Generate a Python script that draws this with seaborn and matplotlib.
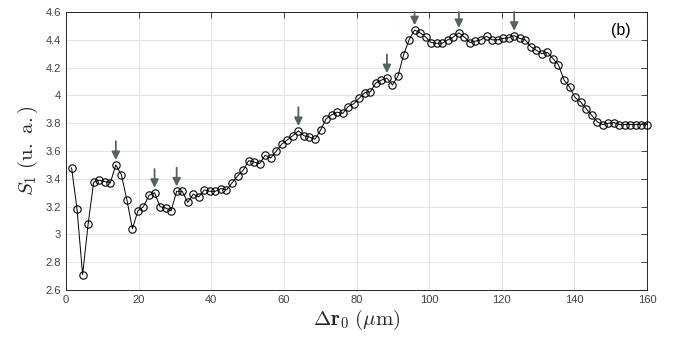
import numpy as np
import pandas as pd
import matplotlib
matplotlib.use("Agg")
import matplotlib.pyplot as plt
import seaborn as sns

# ---- data ----
n_points = 105
dr0 = [160.0 * k / n_points for k in range(1, n_points + 1)]
s1 = [
    3.48, 3.18, 2.71, 3.075, 3.376, 3.39, 3.38, 3.37, 3.50, 3.43,
    3.25, 3.04, 3.17, 3.20, 3.28, 3.30, 3.20, 3.19, 3.17, 3.31,
    3.31, 3.23, 3.29, 3.27, 3.32, 3.31, 3.31, 3.33, 3.32, 3.37,
    3.42, 3.46, 3.53, 3.52, 3.51, 3.57, 3.55, 3.60, 3.65, 3.68,
    3.71, 3.745, 3.71, 3.70, 3.685, 3.75, 3.83, 3.86, 3.88, 3.87,
    3.92, 3.94, 3.98, 4.02, 4.025, 4.09, 4.11, 4.125, 4.075, 4.14,
    4.29, 4.40, 4.47, 4.45, 4.42, 4.38, 4.375, 4.375, 4.40, 4.42,
    4.45, 4.42, 4.38, 4.39, 4.40, 4.425, 4.40, 4.40, 4.41, 4.415,
    4.43, 4.41, 4.40, 4.35, 4.325, 4.30, 4.31, 4.265, 4.22, 4.11,
    4.06, 3.985, 3.953, 3.905, 3.857, 3.81, 3.79, 3.80, 3.805, 3.79,
    3.79, 3.79, 3.79, 3.79, 3.79,
]
arrow_idx = [8, 15, 19, 41, 57, 62, 70, 80]
x_ticks = [0, 20, 40, 60, 80, 100, 120, 140, 160]
y_ticks = [2.6, 2.8, 3.0, 3.2, 3.4, 3.6, 3.8, 4.0, 4.2, 4.4, 4.6]
y_tick_labels = ["2.6", "2.8", "3", "3.2", "3.4", "3.6", "3.8", "4", "4.2", "4.4", "4.6"]
panel_label = "(b)"

df = pd.DataFrame({"dr0": dr0, "s1": s1})

sns.set_theme(style="white")
plt.rcParams["font.family"] = ["Liberation Sans", "DejaVu Sans"]
plt.rcParams["mathtext.fontset"] = "cm"

fig = plt.figure(figsize=(6.73, 3.44), dpi=100)
ax = fig.add_axes([66 / 673, 1 - 290 / 344, 581 / 673, 278 / 344])

sns.lineplot(data=df, x="dr0", y="s1", ax=ax, color="black", linewidth=0.7,
             marker="o", markersize=5.3, markerfacecolor="none",
             markeredgecolor="black", markeredgewidth=0.8, clip_on=False,
             zorder=3)

for i in arrow_idx:
    xv, yv = dr0[i], s1[i]
    tail = min(yv + 0.17, 4.6)
    ax.annotate("", xy=(xv, yv + 0.035), xytext=(xv, tail),
                arrowprops=dict(arrowstyle="-|>", color="#56625e", lw=1.3,
                                mutation_scale=12, shrinkA=0, shrinkB=0),
                zorder=4)

ax.set_xlim(0, 160)
ax.set_ylim(2.6, 4.6)
ax.set_xticks(x_ticks)
ax.set_xticklabels([str(t) for t in x_ticks])
ax.set_yticks(y_ticks)
ax.set_yticklabels(y_tick_labels)
ax.grid(True, color="#e4e4e4", linewidth=0.7)
ax.set_axisbelow(True)
ax.tick_params(direction="in", length=4, width=0.6, colors="#262626",
               labelsize=8, top=True, right=True, labelcolor="#404040")
for sp in ax.spines.values():
    sp.set_color("#262626")
    sp.set_linewidth(0.7)

ax.set_xlabel(r"$\Delta\mathbf{r}_0\ (\mu\mathrm{m})$", fontsize=15, labelpad=2)
ax.set_ylabel(r"$S_1\ (\mathrm{u.\ a.})$", fontsize=15, labelpad=4)
ax.text(0.972, 0.935, panel_label, transform=ax.transAxes, ha="right",
        va="center", fontsize=11.5, color="black")

fig.savefig("out.png", dpi=100)
